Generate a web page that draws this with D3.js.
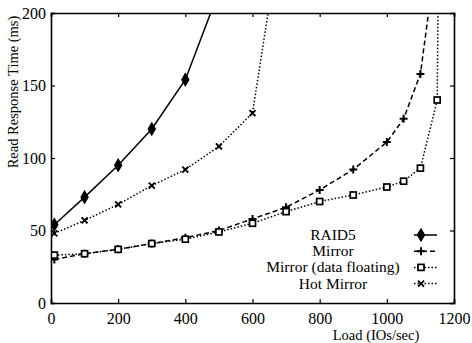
<!DOCTYPE html>
<html><head><meta charset="utf-8">
<script src="https://cdn.jsdelivr.net/npm/d3@7"></script>
<style>body{margin:0;background:#fff}svg{display:block}text{font-family:"Liberation Serif","Times New Roman",serif;fill:#000}</style>
</head><body><svg id="c" width="472" height="343"></svg>
<script>
const raid5X = [10,100,200,300,400,500];
const raid5Y = [54,73,95,120,154,215];
const mirrorX = [10,100,200,300,400,500,600,700,800,900,1000,1050,1100,1150];
const mirrorY = [30,34,37,41,45,50,58,66,78,92,111,127,158,245];
const floatX = [10,100,200,300,400,500,600,700,800,900,1000,1050,1100,1150,1156];
const floatY = [33,34,37,41,44,49,55,63,70,74.5,80,84,93,140,300];
const hotX = [10,100,200,300,400,500,600,700];
const hotY = [48,57,68,81,92,108,131,280];
const xTicks = [0,200,400,600,800,1000,1200];
const yTicks = [0,50,100,150,200];
const legendLabels = ["RAID5","Mirror","Mirror (data floating)","Hot Mirror"];

const svg = d3.select("#c");
const x = d3.scaleLinear().domain([0,1200]).range([51,454]);
const y = d3.scaleLinear().domain([0,200]).range([303,13]);

svg.append("clipPath").attr("id","clip").append("rect")
  .attr("x",x(0)).attr("y",y(200)).attr("width",x(1200)-x(0)).attr("height",y(0)-y(200));

const fs = "16px";
const gBottom = svg.append("g").attr("transform",`translate(0,${y(0)})`)
  .call(d3.axisBottom(x).tickValues(xTicks).tickSize(-4).tickPadding(10).tickFormat(d3.format("d")));
const gLeft = svg.append("g").attr("transform",`translate(${x(0)},0)`)
  .call(d3.axisLeft(y).tickValues(yTicks).tickSize(-4).tickPadding(5));
const gTop = svg.append("g").attr("transform",`translate(0,${y(200)})`)
  .call(d3.axisTop(x).tickValues(xTicks).tickSize(-4).tickFormat(""));
const gRight = svg.append("g").attr("transform",`translate(${x(1200)},0)`)
  .call(d3.axisRight(y).tickValues(yTicks).tickSize(-4).tickFormat(""));
[gBottom,gLeft,gTop,gRight].forEach(g=>{
  g.select(".domain").attr("stroke","#000").attr("stroke-width",1.6);
  g.selectAll(".tick line").attr("stroke","#000").attr("stroke-width",1.2);
  g.selectAll("text").attr("font-family","Liberation Serif").attr("font-size",fs).attr("fill","#000");
});

svg.append("text").attr("transform",`translate(18,92) rotate(-90)`).attr("text-anchor","middle")
  .attr("font-size","14.5px").text("Read Response Time (ms)");
svg.append("text").attr("x",376).attr("y",340).attr("text-anchor","middle")
  .attr("font-size","14.5px").text("Load (IOs/sec)");

const series = [
  {xs:raid5X, ys:raid5Y, dash:null, mark:"diamond"},
  {xs:mirrorX, ys:mirrorY, dash:"5,3", mark:"plus"},
  {xs:floatX, ys:floatY, dash:"1.5,2", mark:"square"},
  {xs:hotX, ys:hotY, dash:"1.5,2", mark:"x"}
];

function drawMark(g, type, cx, cy){
  if(type==="diamond"){
    g.append("path").attr("d",d3.symbol(d3.symbolDiamond,44)()).attr("transform",`translate(${cx},${cy})`)
      .attr("fill","#000").attr("stroke","#000").attr("stroke-width",1.2);
  } else if(type==="plus"){
    g.append("path").attr("d",`M${cx-4},${cy}H${cx+4}M${cx},${cy-4}V${cy+4}`).attr("stroke","#000").attr("stroke-width",2);
  } else if(type==="square"){
    g.append("rect").attr("x",cx-3).attr("y",cy-3).attr("width",6).attr("height",6)
      .attr("fill","#fff").attr("stroke","#000").attr("stroke-width",1.7);
  } else {
    g.append("path").attr("d",`M${cx-3},${cy-3}L${cx+3},${cy+3}M${cx-3},${cy+3}L${cx+3},${cy-3}`).attr("stroke","#000").attr("stroke-width",1.9);
  }
}

const plot = svg.append("g").attr("clip-path","url(#clip)");
series.forEach(s=>{
  const pts = s.xs.map((v,i)=>[v,s.ys[i]]);
  plot.append("path").datum(pts)
    .attr("d",d3.line().x(d=>x(d[0])).y(d=>y(d[1])))
    .attr("fill","none").attr("stroke","#000").attr("stroke-width",1.5)
    .attr("stroke-dasharray",s.dash);
  pts.forEach(p=>{ if(p[1]<=200) drawMark(plot, s.mark, x(p[0]), y(p[1])); });
});

const lg = svg.append("g");
legendLabels.forEach((lab,i)=>{
  const yy = 235 + i*16.2;
  lg.append("text").attr("x",333).attr("y",yy+5).attr("text-anchor","middle").attr("font-size","15.5px").text(lab);
  lg.append("line").attr("x1",414).attr("x2",437).attr("y1",yy).attr("y2",yy)
    .attr("stroke","#000").attr("stroke-width",1.5).attr("stroke-dasharray",series[i].dash);
  drawMark(lg, series[i].mark, 421, yy);
});
</script></body></html>
